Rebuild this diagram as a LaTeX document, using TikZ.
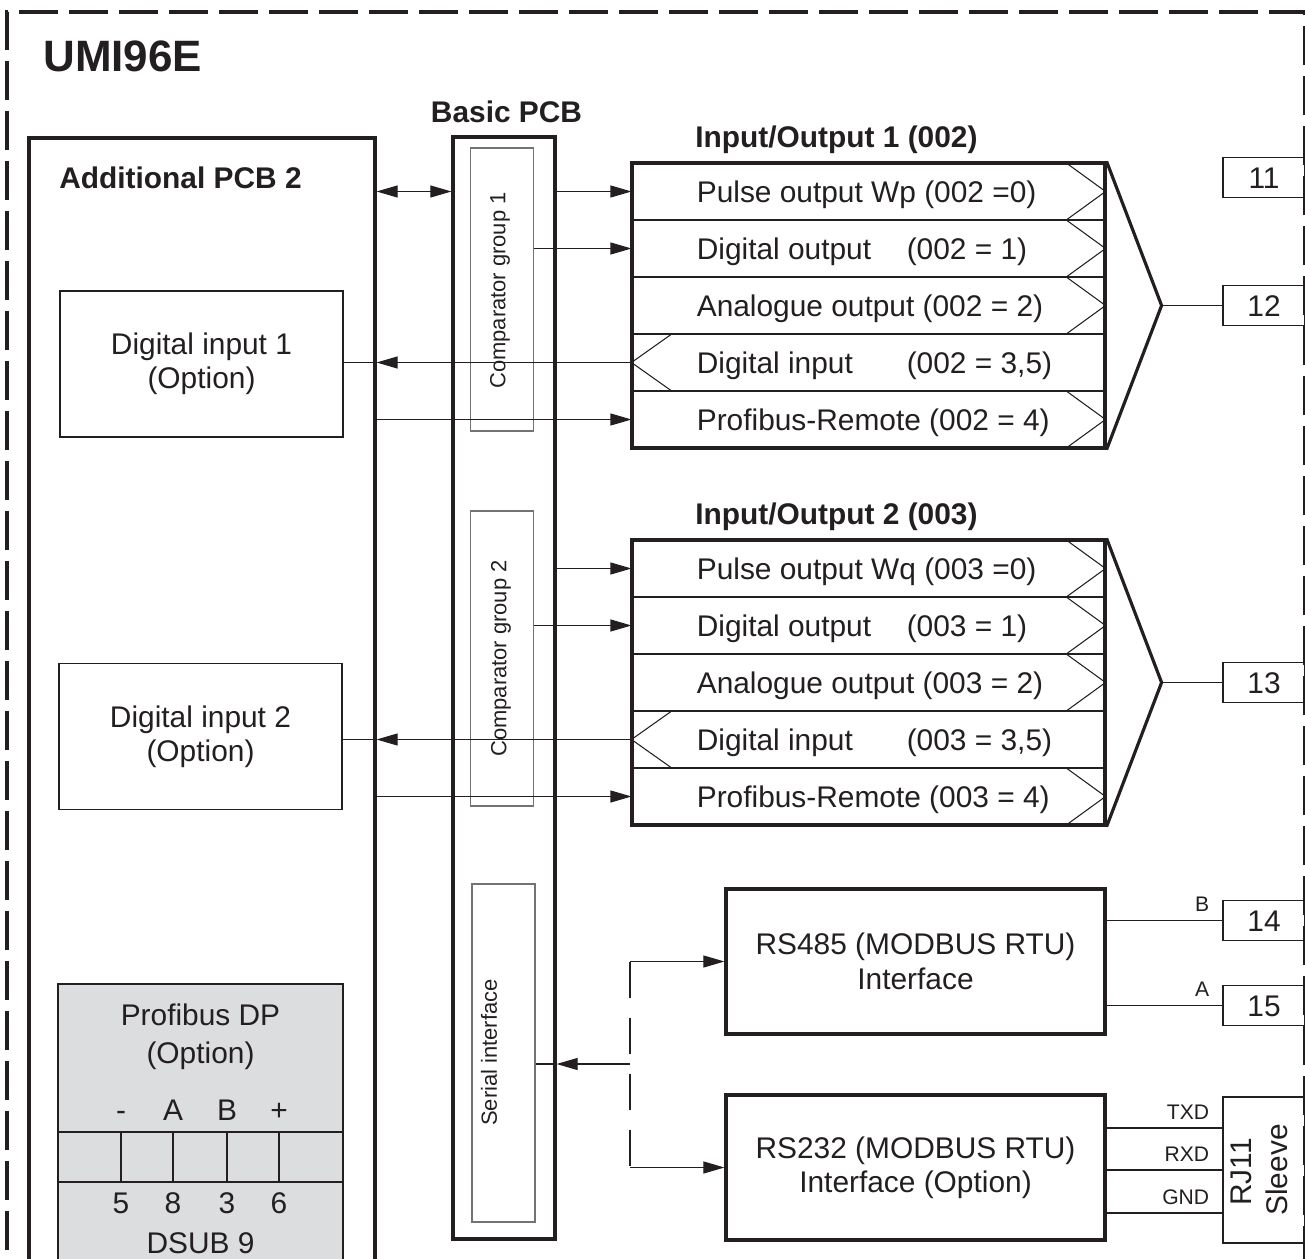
\documentclass[tikz,border=0pt]{standalone}
\usepackage{fontspec}
\setmainfont{Liberation Sans}
\usetikzlibrary{arrows.meta}
\definecolor{ink}{RGB}{35,31,32}
\definecolor{pbgray}{RGB}{220,221,223}

\begin{document}
\begin{tikzpicture}[
    >={Triangle[length=4.2mm,width=2.4mm]}, font=\fontsize{17}{19.6}\selectfont,
    color=ink,
    txt/.style   ={inner sep=0pt, text height=12.2pt, text depth=0pt},
    rtxt/.style  ={txt, anchor=west},
    ttl/.style   ={txt, font=\fontsize{17}{19.6}\selectfont\bfseries},
    sig/.style   ={txt, text height=8.6pt, font=\fontsize{12}{14}\selectfont, anchor=south east},
    vlbl/.style  ={txt, text height=9pt, rotate=90, font=\fontsize{12.5}{15}\selectfont},
    heavy/.style ={line width=1.8pt},
    ln/.style    ={line width=0.6pt},
    pcb/.style   ={draw, heavy},
    subbox/.style={draw=black!55, ln, minimum width=1.26cm},
    optbox/.style={draw, ln, align=center, minimum width=5.66cm, minimum height=2.92cm},
    pbbox/.style ={draw, ln, fill=pbgray, minimum width=5.7cm},
    iorow/.style ={draw, ln, minimum width=9.46cm, minimum height=1.14cm},
    iobox/.style ={pcb, minimum width=9.46cm, minimum height=5.7cm},
    tbox/.style  ={draw, ln, text height=12.2pt, text depth=0pt,
                   minimum width=1.64cm, minimum height=0.8cm},
    iface/.style ={pcb, align=center, minimum width=7.58cm, minimum height=2.9cm},
  ]
  % --- frame ---
  \useasboundingbox (0,0) rectangle (26.1,-25.18);
  \clip (0,0) rectangle (26.1,-25.18);
  \draw[line width=2pt, dash pattern=on 0.78cm off 0.22cm]
    (0.14,-26) -- (0.14,-0.24) -- (26.1,-0.24) -- (26.1,-26);
  \node[ttl, anchor=west, text height=17.9pt, font=\fontsize{25}{30}\selectfont\bfseries]
    (umi) at (0.86,-1.12) {UMI96E};

  % --- additional PCB 2 ---
  \node[pcb, minimum width=6.92cm, minimum height=23.5cm] (pcb2) at (4.04,-14.51) {};
  \node[ttl, anchor=west] (pcb2t) at (1.18,-3.55) {Additional PCB 2};
  \node[optbox] (di1) at (4.03,-7.28) {Digital input 1\\(Option)};
  \node[optbox] (di2) at (4.01,-14.73) {Digital input 2\\(Option)};
  \node[pbbox, minimum height=2.96cm] (pdp)  at (4.01,-21.16) {};
  \node[pbbox, minimum height=1.0cm]  (pins) at (4.01,-23.14) {};
  \node[pbbox, minimum height=2.0cm]  (dsub) at (4.01,-24.64) {};
  \node[txt] (pdpt) at (4.01,-20.3) {Profibus DP};
  \node[txt] (pdpo) at (4.01,-21.06) {(Option)};
  \node[txt] (pm) at (2.42,-22.2) {-};
  \node[txt] (pa) at (3.46,-22.2) {A};
  \node[txt] (pb) at (4.54,-22.2) {B};
  \node[txt] (pp) at (5.58,-22.2) {+};
  \draw[ln] (pm |- pins.north) -- (pm |- pins.south);
  \draw[ln] (pa |- pins.north) -- (pa |- pins.south);
  \draw[ln] (pb |- pins.north) -- (pb |- pins.south);
  \draw[ln] (pp |- pins.north) -- (pp |- pins.south);
  \node[txt] (n5) at (2.42,-24.06) {5};
  \node[txt] (n8) at (3.46,-24.06) {8};
  \node[txt] (n3) at (4.54,-24.06) {3};
  \node[txt] (n6) at (5.58,-24.06) {6};
  \node[txt] (dsubt) at (4.01,-24.86) {DSUB 9};

  % --- basic PCB ---
  \node[ttl] (bpcbt) at (10.13,-2.24) {Basic PCB};
  \node[pcb, minimum width=2.04cm, minimum height=22.04cm] (bpcb) at (10.08,-13.76) {};
  \node[subbox, minimum height=5.66cm] (cmp1) at (10.04,-5.79) {};
  \node[vlbl] (cmp1t) at (9.95,-5.81) {Comparator group 1};
  \node[subbox, minimum height=5.9cm] (cmp2) at (10.04,-13.17) {};
  \node[vlbl] (cmp2t) at (9.97,-13.17) {Comparator group 2};
  \node[subbox, minimum height=6.76cm] (ser) at (10.07,-21.06) {};
  \node[vlbl] (sert) at (9.78,-21.05) {Serial interface};

  % --- input/output 1 ---
  \node[ttl, anchor=west] (io1t) at (13.9,-2.74) {Input/Output 1 (002)};
  \node[iorow] (r11) at (17.37,-3.83) {};
  \node[iorow] (r12) at (17.37,-4.97) {};
  \node[iorow] (r13) at (17.37,-6.11) {};
  \node[iorow] (r14) at (17.37,-7.25) {};
  \node[iorow] (r15) at (17.37,-8.39) {};
  \node[rtxt] (x11) at ([xshift=1.3cm]r11.west) {Pulse output Wp (002 =0)};
  \node[rtxt] (x12) at ([xshift=1.3cm]r12.west) {\makebox[4.2cm][l]{Digital output}(002 = 1)};
  \node[rtxt] (x13) at ([xshift=1.3cm]r13.west) {Analogue output (002 = 2)};
  \node[rtxt] (x14) at ([xshift=1.3cm]r14.west) {\makebox[4.2cm][l]{Digital input}(002 = 3,5)};
  \node[rtxt] (x15) at ([xshift=1.3cm]r15.west) {Profibus-Remote (002 = 4)};
  \draw[ln] ([xshift=-0.8cm]r11.north east) -- (r11.east) -- ([xshift=-0.8cm]r11.south east);
  \draw[ln] ([xshift=-0.8cm]r12.north east) -- (r12.east) -- ([xshift=-0.8cm]r12.south east);
  \draw[ln] ([xshift=-0.8cm]r13.north east) -- (r13.east) -- ([xshift=-0.8cm]r13.south east);
  \draw[ln] ([xshift=0.82cm]r14.north west) -- (r14.west) -- ([xshift=0.82cm]r14.south west);
  \draw[ln] ([xshift=-0.8cm]r15.north east) -- (r15.east) -- ([xshift=-0.8cm]r15.south east);
  \node[iobox] (io1) at (17.37,-6.11) {};
  \draw[heavy] (io1.north east) -- ([xshift=1.1cm]io1.east) coordinate (f1) -- (io1.south east);
  \node[tbox] (t11) at (25.28,-3.55) {11};
  \node[tbox] (t12) at (25.28,-6.11) {12};
  \draw[ln] (f1) -- (t12.west);
  \draw[ln,<->] (pcb2.east |- r11.west) -- (bpcb.west |- r11.west);
  \draw[ln,->] (bpcb.east |- r11.west) -- (r11.west);
  \draw[ln,->] (cmp1.east |- r12.west) -- (r12.west);
  \draw[ln,->] (r14.west) -- (pcb2.east |- r14.west);
  \draw[ln] (pcb2.east |- r14.west) -- (di1.east |- r14.west);
  \draw[ln,->] (pcb2.east |- r15.west) -- (r15.west);

  % --- input/output 2 ---
  \node[ttl, anchor=west] (io2t) at (13.9,-10.28) {Input/Output 2 (003)};
  \node[iorow] (r21) at (17.37,-11.37) {};
  \node[iorow] (r22) at (17.37,-12.51) {};
  \node[iorow] (r23) at (17.37,-13.65) {};
  \node[iorow] (r24) at (17.37,-14.79) {};
  \node[iorow] (r25) at (17.37,-15.93) {};
  \node[rtxt] (x21) at ([xshift=1.3cm]r21.west) {Pulse output Wq (003 =0)};
  \node[rtxt] (x22) at ([xshift=1.3cm]r22.west) {\makebox[4.2cm][l]{Digital output}(003 = 1)};
  \node[rtxt] (x23) at ([xshift=1.3cm]r23.west) {Analogue output (003 = 2)};
  \node[rtxt] (x24) at ([xshift=1.3cm]r24.west) {\makebox[4.2cm][l]{Digital input}(003 = 3,5)};
  \node[rtxt] (x25) at ([xshift=1.3cm]r25.west) {Profibus-Remote (003 = 4)};
  \draw[ln] ([xshift=-0.8cm]r21.north east) -- (r21.east) -- ([xshift=-0.8cm]r21.south east);
  \draw[ln] ([xshift=-0.8cm]r22.north east) -- (r22.east) -- ([xshift=-0.8cm]r22.south east);
  \draw[ln] ([xshift=-0.8cm]r23.north east) -- (r23.east) -- ([xshift=-0.8cm]r23.south east);
  \draw[ln] ([xshift=0.82cm]r24.north west) -- (r24.west) -- ([xshift=0.82cm]r24.south west);
  \draw[ln] ([xshift=-0.8cm]r25.north east) -- (r25.east) -- ([xshift=-0.8cm]r25.south east);
  \node[iobox] (io2) at (17.37,-13.65) {};
  \draw[heavy] (io2.north east) -- ([xshift=1.1cm]io2.east) coordinate (f2) -- (io2.south east);
  \node[tbox] (t13) at (25.28,-13.65) {13};
  \draw[ln] (f2) -- (t13.west);
  \draw[ln,->] (bpcb.east |- r21.west) -- (r21.west);
  \draw[ln,->] (cmp2.east |- r22.west) -- (r22.west);
  \draw[ln,->] (r24.west) -- (pcb2.east |- r24.west);
  \draw[ln] (pcb2.east |- r24.west) -- (di2.east |- r24.west);
  \draw[ln,->] (pcb2.east |- r25.west) -- (r25.west);

  % --- serial interfaces ---
  \node[iface] (rs485) at (18.31,-19.23) {RS485 (MODBUS RTU)\\Interface};
  \node[iface] (rs232) at (18.31,-23.35) {RS232 (MODBUS RTU)\\Interface (Option)};
  \coordinate (sj) at (12.6,-21.28);
  \draw[ln, dash pattern=on 0.72cm off 0.4cm] (sj |- rs485.west) -- (sj |- rs232.west);
  \draw[ln,->] (sj |- rs485.west) -- (rs485.west);
  \draw[ln,->] (sj |- rs232.west) -- (rs232.west);
  \draw[ln,->] (sj) -- (bpcb.east |- sj);
  \draw[ln] (bpcb.east |- sj) -- (ser.east |- sj);
  \node[tbox] (t14) at (25.28,-18.41) {14};
  \node[tbox] (t15) at (25.28,-20.11) {15};
  \draw[ln] (rs485.east |- t14.west) -- (t14.west);
  \draw[ln] (rs485.east |- t15.west) -- (t15.west);
  \node[sig] (sb) at ([xshift=-0.26cm,yshift=0.17cm]t14.west) {B};
  \node[sig] (sa) at ([xshift=-0.26cm,yshift=0.17cm]t15.west) {A};
  \node[tbox, minimum height=2.92cm] (rj) at (25.28,-23.4) {};
  \node[txt, rotate=90] (rjt) at (24.82,-23.44) {RJ11};
  \node[txt, rotate=90] (slt) at (25.54,-23.4) {Sleeve};
  \coordinate (txd) at ([yshift=0.84cm]rj.west);
  \coordinate (rxd) at (rj.west);
  \coordinate (gnd) at ([yshift=-0.86cm]rj.west);
  \draw[ln] (rs232.east |- txd) -- (txd);
  \draw[ln] (rs232.east |- rxd) -- (rxd);
  \draw[ln] (rs232.east |- gnd) -- (gnd);
  \node[sig] (stx) at ([xshift=-0.26cm,yshift=0.16cm]txd) {TXD};
  \node[sig] (srx) at ([xshift=-0.26cm,yshift=0.16cm]rxd) {RXD};
  \node[sig] (sgn) at ([xshift=-0.26cm,yshift=0.16cm]gnd) {GND};
\end{tikzpicture}
\end{document}
